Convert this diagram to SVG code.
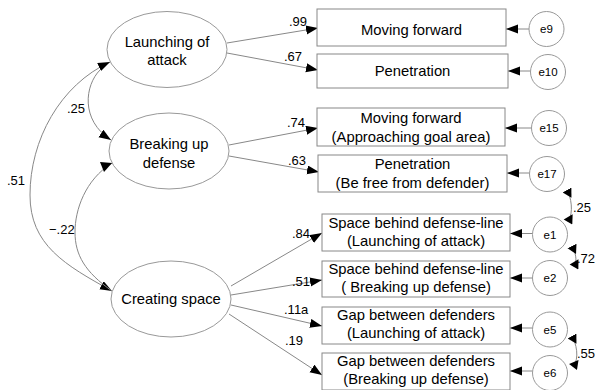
<svg xmlns="http://www.w3.org/2000/svg" width="595" height="390" viewBox="0 0 595 390">
<style>
.lat{fill:#fff;stroke:#999;stroke-width:1}
.box{fill:#fff;stroke:#888;stroke-width:1}
.err{fill:#fff;stroke:#999;stroke-width:1}
.ln{fill:none;stroke:#888;stroke-width:1}
.t{font-family:"Liberation Sans",Arial,sans-serif;font-size:14.8px;fill:#000;text-anchor:middle}
.e{font-family:"Liberation Sans",Arial,sans-serif;font-size:11.5px;fill:#000;text-anchor:middle}
.lb{font-family:"Liberation Sans",Arial,sans-serif;font-size:13px;fill:#000}
</style>
<defs>
<marker id="arr" markerUnits="userSpaceOnUse" markerWidth="13" markerHeight="10" refX="12" refY="4.5" orient="auto-start-reverse"><polygon points="0,0 12,4.5 0,9" fill="#000"/></marker>
<marker id="fwd" markerUnits="userSpaceOnUse" markerWidth="10" markerHeight="11" refX="0" refY="5" orient="auto"><polygon points="0,0 9,5 0,10" fill="#000"/></marker>
<marker id="bwd" markerUnits="userSpaceOnUse" markerWidth="10" markerHeight="11" refX="9" refY="5" orient="auto"><polygon points="9,0 9,10 0,5" fill="#000"/></marker>
</defs>

<g id="connectors">
<path class="ln" d="M227,43 L318,28" marker-end="url(#arr)"/>
<path class="ln" d="M227,53 L318,70" marker-end="url(#arr)"/>
<path class="ln" d="M229,145 L318,128" marker-end="url(#arr)"/>
<path class="ln" d="M229,156 L319,172" marker-end="url(#arr)"/>
<path class="ln" d="M231,286 L322,233" marker-end="url(#arr)"/>
<path class="ln" d="M231,295 L322,280" marker-end="url(#arr)"/>
<path class="ln" d="M231,305 L322,326" marker-end="url(#arr)"/>
<path class="ln" d="M229,314 L322,375" marker-end="url(#arr)"/>
<path class="ln" d="M529,29 L506,29" marker-end="url(#arr)"/>
<path class="ln" d="M530.5,71 L508,71" marker-end="url(#arr)"/>
<path class="ln" d="M531.5,128 L505,128" marker-end="url(#arr)"/>
<path class="ln" d="M529.5,173 L507,173" marker-end="url(#arr)"/>
<path class="ln" d="M532.5,233.5 L510,233.5" marker-end="url(#arr)"/>
<path class="ln" d="M532.5,278 L510,278" marker-end="url(#arr)"/>
<path class="ln" d="M532.5,328 L510,328" marker-end="url(#arr)"/>
<path class="ln" d="M532.5,371 L510,371" marker-end="url(#arr)"/>
<path class="ln" d="M110,62 C60,85 30,140 30,195 C30,245 65,265 112,291" marker-start="url(#arr)" marker-end="url(#arr)"/>
<path class="ln" d="M100,70 C85,85 80,120 111,140" marker-end="url(#arr)"/>
<path class="ln" d="M112,163 C85,180 75,210 75,232 C75,255 85,272 112,291"/>
<path class="ln" d="M567,190 C571,197 574,212 568,222" marker-start="url(#fwd)" marker-end="url(#bwd)"/>
<path class="ln" d="M572,246 C575,252 578,260 574,267" marker-start="url(#fwd)" marker-end="url(#bwd)"/>
<path class="ln" d="M572,336 C576,343 580,358 573,367" marker-start="url(#fwd)" marker-end="url(#bwd)"/>
<polygon points="100,162 112,163 104,172" fill="#000"/>
<text class="lb" x="289" y="26">.99</text>
<text class="lb" x="284" y="61">.67</text>
<text class="lb" x="287" y="127">.74</text>
<text class="lb" x="288" y="165">.63</text>
<text class="lb" x="292" y="238">.84</text>
<text class="lb" x="292" y="286">.51</text>
<text class="lb" x="284" y="314">.11a</text>
<text class="lb" x="285" y="345">.19</text>
<text class="lb" x="67" y="113">.25</text>
<text class="lb" x="7" y="185">.51</text>
<text class="lb" x="49" y="234">−.22</text>
<text class="lb" x="573" y="212">.25</text>
<text class="lb" x="577" y="263">.72</text>
<text class="lb" x="577" y="358">.55</text>
</g>

<g id="launching">
<ellipse class="lat" cx="167" cy="49.5" rx="60" ry="38"/>
<text class="t" x="167" y="46.5">Launching of</text>
<text class="t" x="167" y="65">attack</text>
</g>
<g id="breaking">
<ellipse class="lat" cx="169" cy="151" rx="60" ry="38"/>
<text class="t" x="169" y="149">Breaking up</text>
<text class="t" x="169" y="167.5">defense</text>
</g>
<g id="creating">
<ellipse class="lat" cx="171" cy="299" rx="60" ry="38"/>
<text class="t" x="171" y="303.5">Creating space</text>
</g>

<g id="box1"><rect class="box" x="317" y="9" width="189" height="37"/><text class="t" x="411.5" y="35">Moving forward</text></g>
<g id="box2"><rect class="box" x="317" y="54" width="191" height="34"/><text class="t" x="412.5" y="76">Penetration</text></g>
<g id="box3"><rect class="box" x="317" y="108" width="188" height="38"/><text class="t" x="411" y="123">Moving forward</text><text class="t" x="411" y="141.5">(Approaching goal area)</text></g>
<g id="box4"><rect class="box" x="318" y="155" width="189" height="37"/><text class="t" x="412.5" y="169">Penetration</text><text class="t" x="412.5" y="188">(Be free from defender)</text></g>
<g id="box5"><rect class="box" x="322" y="214" width="188" height="37"/><text class="t" x="416" y="227.5">Space behind defense-line</text><text class="t" x="416" y="246">(Launching of attack)</text></g>
<g id="box6"><rect class="box" x="322" y="261" width="188" height="36"/><text class="t" x="416" y="273.5">Space behind defense-line</text><text class="t" x="416" y="292.3">( Breaking up defense)</text></g>
<g id="box7"><rect class="box" x="322" y="307" width="188" height="37"/><text class="t" x="416" y="320">Gap between defenders</text><text class="t" x="416" y="338.3">(Launching of attack)</text></g>
<g id="box8"><rect class="box" x="322" y="353" width="188" height="37"/><text class="t" x="416" y="366">Gap between defenders</text><text class="t" x="416" y="384.3">(Breaking up defense)</text></g>

<g id="e9"><circle class="err" cx="546.5" cy="29" r="17.5"/><text class="e" x="546.5" y="33">e9</text></g>
<g id="e10"><circle class="err" cx="548" cy="72" r="17.5"/><text class="e" x="548" y="76">e10</text></g>
<g id="e15"><circle class="err" cx="549" cy="128" r="17.5"/><text class="e" x="549" y="132">e15</text></g>
<g id="e17"><circle class="err" cx="547" cy="174" r="17.5"/><text class="e" x="547" y="178">e17</text></g>
<g id="e1"><circle class="err" cx="550" cy="234.5" r="17.5"/><text class="e" x="550" y="238.5">e1</text></g>
<g id="e2"><circle class="err" cx="550" cy="278" r="17.5"/><text class="e" x="550" y="282">e2</text></g>
<g id="e5"><circle class="err" cx="550" cy="329.5" r="17.5"/><text class="e" x="550" y="333.5">e5</text></g>
<g id="e6"><circle class="err" cx="550" cy="373" r="17.5"/><text class="e" x="550" y="377">e6</text></g>
</svg>
